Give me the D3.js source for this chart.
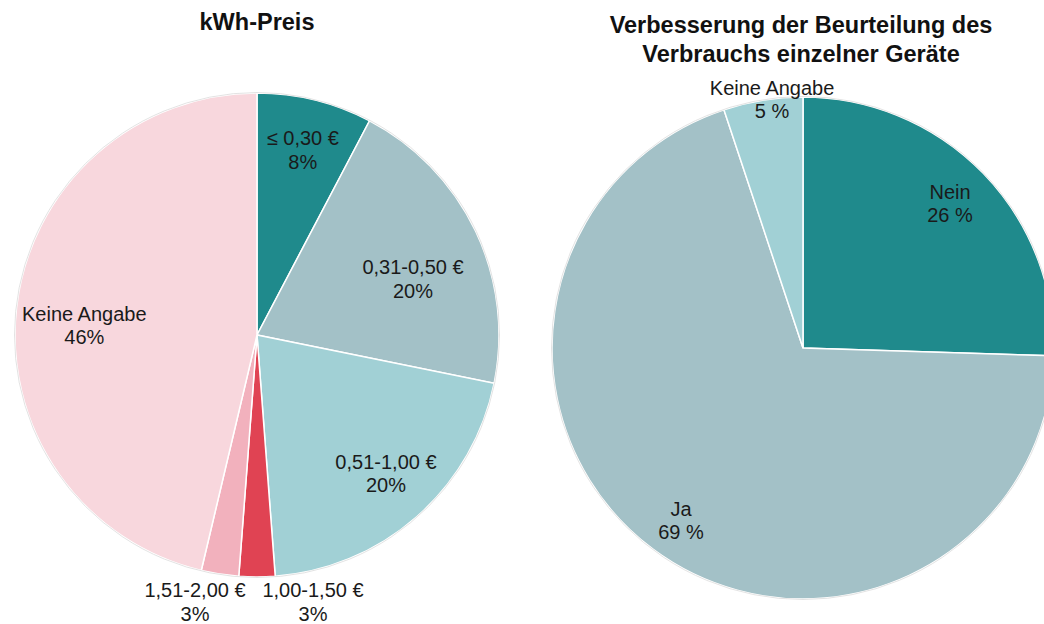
<!DOCTYPE html>
<html>
<head>
<meta charset="utf-8">
<script src="https://cdn.jsdelivr.net/npm/d3@7"></script>
<style>
  body { margin: 0; background: #fff; }
  svg { display: block; font-family: "Liberation Sans", Arial, sans-serif; }
</style>
</head>
<body>
<div id="chart"></div>
<script>
// left pie: kWh price
const priceLabels = ["≤ 0,30 €", "0,31-0,50 €", "0,51-1,00 €", "1,00-1,50 €", "1,51-2,00 €", "Keine Angabe"];
const priceValues = [7.7, 20.5, 20.6, 2.4, 2.5, 46.3];
const pricePct = ["8%", "20%", "20%", "3%", "3%", "46%"];
const priceColors = ["#1f8a8c", "#a3c1c7", "#a1d0d5", "#e04353", "#f2b1bd", "#f8d7dd"];

// right pie: assessment of appliances
const assessLabels = ["Nein", "Ja", "Keine Angabe"];
const assessValues = [25.5, 69.4, 5.1];
const assessPct = ["26 %", "69 %", "5 %"];
const assessColors = ["#1f8a8c", "#a3c1c7", "#a1d0d5"];

let width = 1044;
let height = 624;

let svg = d3.select("#chart")
    .append("svg")
    .attr("width", width)
    .attr("height", height);

const drawPie = (opts) => {
    let g = svg.append("g")
        .attr("transform", "translate(" + opts.cx + "," + opts.cy + ")");

    let pie = d3.pie().sort(null).value(d => d);
    let arcs = pie(opts.values);
    let arc = d3.arc().innerRadius(0).outerRadius(opts.r);

    g.selectAll("path")
        .data(arcs)
        .enter()
        .append("path")
        .attr("d", arc)
        .attr("fill", (d, i) => opts.colors[i])
        .attr("stroke", "#fff")
        .attr("stroke-width", 1.5);

    // outer faint rim
    g.append("circle")
        .attr("r", opts.r + 0.5)
        .attr("fill", "none")
        .attr("stroke", "#dcdcdc")
        .attr("stroke-width", 0.8);

    let smallCount = 0;
    arcs.forEach((d, i) => {
        let share = d.value / d3.sum(opts.values);
        let x, y;
        if (share < 0.04 && opts.outsideSmall) {
            // small slices: labels below the pie, pushed apart
            let side = smallCount === 0 ? 1 : -1;
            smallCount++;
            x = side === 1 ? 56 : -62;
            y = opts.r + 20;
        } else {
            // label radius factor + angle shift (deg)
            let lp = opts.labelPos[i];
            let lr = opts.r * lp[0];
            let mid = (d.startAngle + d.endAngle) / 2 + lp[1] * Math.PI / 180;
            x = Math.sin(mid) * lr;
            y = -Math.cos(mid) * lr - 4;
        }
        let t = g.append("text")
            .attr("text-anchor", "middle")
            .attr("font-size", "20px")
            .attr("fill", "#1a1a1a");
        t.append("tspan").attr("x", x).attr("y", y).text(opts.labels[i]);
        t.append("tspan").attr("x", x).attr("y", y + 23.5).text(opts.pct[i]);
    });
};

drawPie({
    cx: 257, cy: 335, r: 242,
    values: priceValues, labels: priceLabels, pct: pricePct, colors: priceColors,
    labelPos: [[0.79, 0], [0.686, 5.4], [0.78, -1.7], [1, 0], [1, 0], [0.715, -3.2]],
    outsideSmall: true
});

drawPie({
    cx: 803, cy: 348, r: 251,
    values: assessValues, labels: assessLabels, pct: assessPct, colors: assessColors,
    labelPos: [[0.824, -0.6], [0.839, -1.3], [1.0, 2.1]],
    outsideSmall: false
});

// titles
svg.append("text")
    .attr("x", 257)
    .attr("y", 30)
    .attr("text-anchor", "middle")
    .attr("font-size", "23.5px")
    .attr("font-weight", "bold")
    .attr("fill", "#111")
    .text("kWh-Preis");

let title2 = svg.append("text")
    .attr("text-anchor", "middle")
    .attr("font-size", "23.5px")
    .attr("font-weight", "bold")
    .attr("fill", "#111");
title2.append("tspan").attr("x", 801).attr("y", 33).text("Verbesserung der Beurteilung des");
title2.append("tspan").attr("x", 801).attr("y", 62).text("Verbrauchs einzelner Geräte");
</script>
</body>
</html>
